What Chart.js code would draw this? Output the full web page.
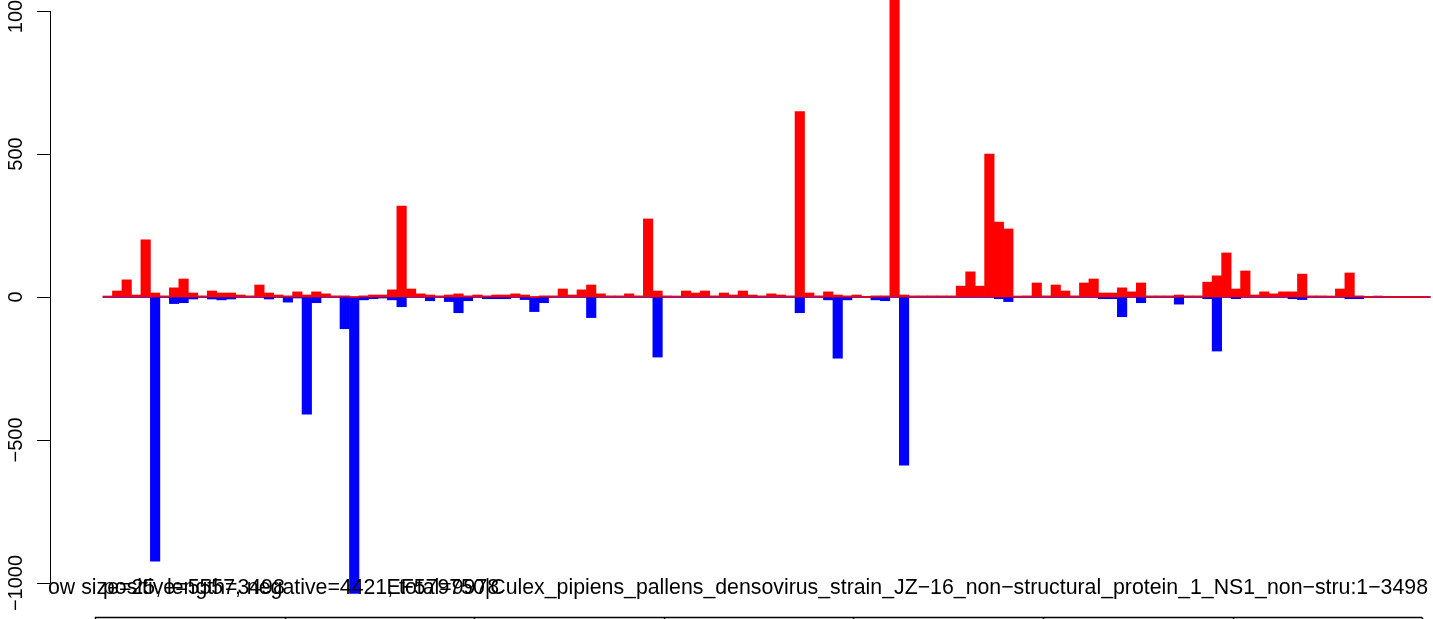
<!DOCTYPE html>
<html>
<head>
<meta charset="utf-8">
<script src="https://cdn.jsdelivr.net/npm/chart.js@4"></script>
<style>
  html, body { margin: 0; padding: 0; background: #fff; }
  #wrap { width: 1433px; height: 619px; position: relative; }
</style>
</head>
<body>
<div id="wrap"><canvas id="chart"></canvas></div>
<script>
// window counts along the sequence (25 bp windows, 3498 bp)
const windowSize = 25;
const seqLength = 3500;

const positive = [
  3, 21, 60, 7, 200, 14, 4, 32, 63, 14,
  4, 21, 14, 14, 7, 4, 42, 14, 7, 4,
  18, 7, 18, 11, 4, 4, 0, 4, 7, 7,
  25, 318, 28, 11, 7, 4, 7, 11, 4, 7,
  4, 7, 7, 11, 7, 0, 4, 4, 28, 7,
  25, 42, 11, 4, 4, 11, 4, 273, 21, 4,
  1, 21, 14, 21, 4, 14, 7, 21, 7, 4,
  11, 7, 4, 648, 14, 4, 18, 7, 4, 7,
  0, 4, 4, 1100, 7, 4, 4, 4, 4, 4,
  38, 88, 38, 500, 262, 238, 3, 4, 49, 4,
  42, 21, 4, 49, 63, 14, 14, 32, 18, 49,
  4, 4, 4, 7, 4, 4, 52, 74, 154, 28,
  91, 7, 18, 11, 18, 18, 80, 4, 4, 1,
  28, 84, 4, 0, 1, 0, 0, 0, 0, 0
];

const negative = [
  0, 0, 0, 0, 0, -924, 0, -23, -20, -7,
  0, -7, -10, -7, 0, 0, 0, -7, 0, -18,
  -3, -410, -20, 0, 0, -111, -1036, -10, -6, -2,
  -10, -34, 0, 0, -13, 0, -16, -55, -13, 0,
  -6, -6, -6, 0, -9, -51, -20, 0, 0, 0,
  0, -72, 0, 0, 0, 0, 0, 0, -210, 0,
  0, 0, 0, 0, 0, 0, 0, 0, 0, 0,
  0, 0, 0, -55, 0, 0, -10, -214, -10, 0,
  0, -10, -13, 0, -588, 0, 0, 0, 0, 0,
  0, 0, 0, 0, -6, -16, 0, 0, 0, 0,
  0, 0, 0, 0, 0, -6, -6, -69, 0, -20,
  0, 0, 0, -25, 0, 0, -6, -189, 0, -6,
  0, 0, 0, 0, 0, -6, -9, 0, 0, 0,
  0, -6, -6, 0, 0, 0, 0, 0, 0, 0
];

const yTicks = [-1000, -500, 0, 500, 1000];
const yTickLabels = ['\u22121000', '\u2212500', '0', '500', '1000'];
const posTicks = [0, 500, 1000, 1500, 2000, 2500, 3000, 3500];

const captions = [
  'ow size=25, length=3498',
  'positive=5557, negative=4421, total=9978',
  'EF579750|Culex_pipiens_pallens_densovirus_strain_JZ\u221216_non\u2212structural_protein_1_NS1_non\u2212stru:1\u22123498'
];

const categories = positive.map((v, i) => (i * windowSize + 1) + '');

const FONT = '20px "Liberation Sans", Arial, sans-serif';
const CAPTION_FONT = '21.3px "Liberation Sans", Arial, sans-serif';

// R style axes + the overlapping captions under the plot
const rAxes = {
  id: 'rAxes',
  afterDraw(chart) {
    const ctx = chart.ctx;
    const y = chart.scales.y;
    const x = chart.scales.x;
    ctx.save();
    ctx.strokeStyle = '#000';
    ctx.fillStyle = '#000';
    ctx.lineWidth = 1;

    // left axis
    const ax = 50.5;
    ctx.beginPath();
    ctx.moveTo(ax, y.getPixelForValue(yTicks[yTicks.length - 1]));
    ctx.lineTo(ax, y.getPixelForValue(yTicks[0]));
    yTicks.forEach(t => {
      const py = Math.round(y.getPixelForValue(t)) + 0.5;
      ctx.moveTo(ax, py);
      ctx.lineTo(37, py);
    });
    ctx.stroke();

    ctx.font = FONT;
    ctx.textAlign = 'center';
    ctx.textBaseline = 'middle';
    yTicks.forEach((t, i) => {
      const py = y.getPixelForValue(t);
      ctx.save();
      ctx.translate(16, py);
      ctx.rotate(-Math.PI / 2);
      ctx.fillText(yTickLabels[i], 0, 0);
      ctx.restore();
    });

    // bottom axis (position in bp), sits 8px left of the bars
    const bpPx = x.width / seqLength;
    const px0 = x.left - 8;
    const by = 617.5;
    ctx.lineWidth = 1.5;
    ctx.beginPath();
    ctx.moveTo(px0 + posTicks[0] * bpPx, by);
    ctx.lineTo(px0 + posTicks[posTicks.length - 1] * bpPx, by);
    posTicks.forEach(t => {
      const px = Math.round(px0 + t * bpPx) + 0.5;
      ctx.moveTo(px, by);
      ctx.lineTo(px, by + 12);
    });
    ctx.stroke();

    // captions
    ctx.font = CAPTION_FONT;
    ctx.textBaseline = 'alphabetic';
    ctx.textAlign = 'left';
    ctx.fillText(captions[0], 48, 594);
    ctx.fillText(captions[1], 103, 594);
    ctx.textAlign = 'right';
    ctx.fillText(captions[2], 1428, 594);
    ctx.restore();
  }
};

new Chart(document.getElementById('chart'), {
  type: 'bar',
  data: {
    labels: categories,
    datasets: [
      {
        label: 'positive',
        data: positive,
        backgroundColor: '#ff0000',
        borderWidth: 0,
        minBarLength: 1,
        order: 0,
        clip: false
      },
      {
        label: 'negative',
        data: negative,
        backgroundColor: '#0000ff',
        borderWidth: 0,
        minBarLength: 1,
        order: 1,
        clip: false
      }
    ]
  },
  options: {
    responsive: true,
    maintainAspectRatio: false,
    animation: false,
    layout: { padding: { left: 103, right: 2.8, top: 11, bottom: 36 } },
    datasets: { bar: { barPercentage: 1, categoryPercentage: 1, grouped: false } },
    plugins: { legend: { display: false }, tooltip: { enabled: false } },
    scales: {
      x: { display: false },
      y: { display: false, min: -1000, max: 1000 }
    }
  },
  plugins: [rAxes]
});
</script>
</body>
</html>
